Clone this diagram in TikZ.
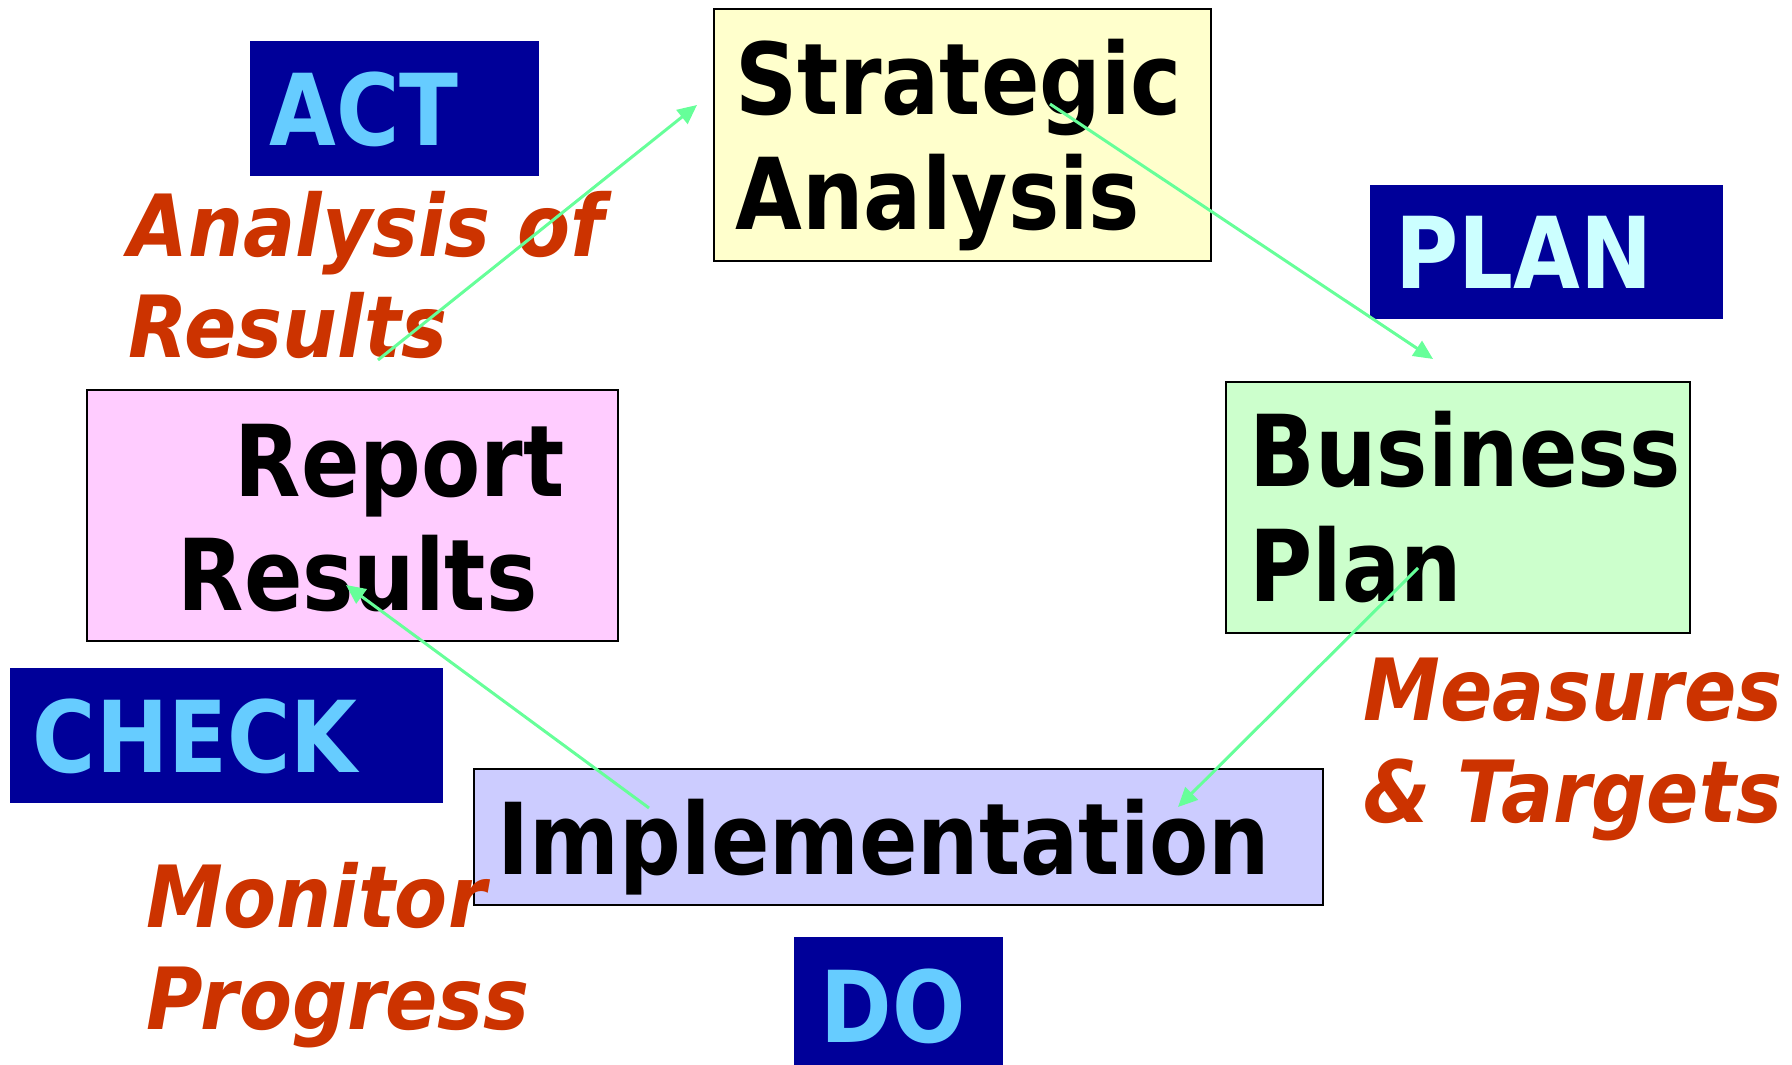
\documentclass[tikz,border=0pt]{standalone}
\usepackage{fontspec}
\setmainfont{DejaVu Sans}[FakeStretch=0.87]
\newfontfamily\notefont{DejaVu Sans}[FakeStretch=0.9]
\usetikzlibrary{arrows.meta}

\definecolor{navy}{HTML}{000099}
\definecolor{sky}{HTML}{66CCFF}
\definecolor{ice}{HTML}{CCFFFF}
\definecolor{rust}{HTML}{CC3300}
\definecolor{mint}{HTML}{66FF99}
\definecolor{paleyellow}{HTML}{FFFFCC}
\definecolor{palegreen}{HTML}{CCFFCC}
\definecolor{palepink}{HTML}{FFCCFF}
\definecolor{palelilac}{HTML}{CCCCFF}

\tikzset{
	box/.style={draw=black, line width=0.6pt, inner sep=0pt, anchor=north west},
	tag/.style={fill=navy, inner sep=0pt, anchor=north west},
	big/.style={font=\fontsize{28.2}{32.7}\selectfont\bfseries, inner sep=0pt, anchor=base west, align=left},
	note/.style={font=\notefont\fontsize{24.4}{29}\selectfont\bfseries\itshape, text=rust, inner sep=0pt, anchor=base west, align=left},
	flow/.style={draw=mint, line width=0.85pt, -{Triangle[length=5.5pt,width=5pt]}}
}

\begin{document}
\begin{tikzpicture}[x=0.01cm, y=-0.01cm]
	\useasboundingbox (0,0) rectangle (1792,1065);
	
	% boxes
	\begin{scope}
		\node[box, fill=paleyellow, minimum width=4.97cm, minimum height=2.52cm] (strat) at (713,8) {};
		\node[box, fill=palegreen, minimum width=4.64cm, minimum height=2.51cm] (biz) at (1225,381) {};
		\node[box, fill=palepink, minimum width=5.31cm, minimum height=2.51cm] (report) at (86,389) {};
		\node[box, fill=palelilac, minimum width=8.48cm, minimum height=1.36cm] (impl) at (473,768) {};
	\end{scope}
	
	% stage tags
	\begin{scope}
		\node[tag, minimum width=2.89cm, minimum height=1.35cm] (act) at (249,40) {};
		\node[tag, minimum width=3.53cm, minimum height=1.34cm] (plan) at (1369,184) {};
		\node[tag, minimum width=4.33cm, minimum height=1.35cm] (check) at (9,667) {};
		\node[tag, minimum width=2.09cm, minimum height=1.40cm] (do) at (793,936) {};
	\end{scope}
	
	% texts (base = last line)
	\node[big] (stratT) at (735,230) {Strategic\\Analysis};
	\node[big] (bizT) at (1249,602) {Business\\Plan};
	\node[big] (reportT) at (234,497) {Report};
	\node[big] (resultsT) at (177,611) {Results};
	\node[big] (implT) at (497,874) {Implementation};
	
	\node[big, text=sky] (actT) at (269,146) {ACT};
	\node[big, text=ice] (planT) at (1395,289) {PLAN};
	\node[big, text=sky] (checkT) at (32,773) {CHECK};
	\node[big, text=sky] (doT) at (820,1042) {DO};
	
	\node[note] (analysisT) at (128,358) {Analysis of\\Results};
	\node[note] (measuresT) at (1363,822) {Measures\\\& Targets};
	\node[note] (monitorT) at (146,1029) {Monitor\\Progress};
	
	% cycle arrows
	\coordinate (a1) at (378,360);
	\coordinate (a2) at (697,105);
	\coordinate (b1) at (1050,104);
	\coordinate (b2) at (1433,359);
	\coordinate (c1) at (1418,568);
	\coordinate (c2) at (1178,807);
	\coordinate (d1) at (649,808);
	\coordinate (d2) at (346,585);
	\draw[flow] (a1) -- (a2);
	\draw[flow] (b1) -- (b2);
	\draw[flow] (c1) -- (c2);
	\draw[flow] (d1) -- (d2);
\end{tikzpicture}
\end{document}
